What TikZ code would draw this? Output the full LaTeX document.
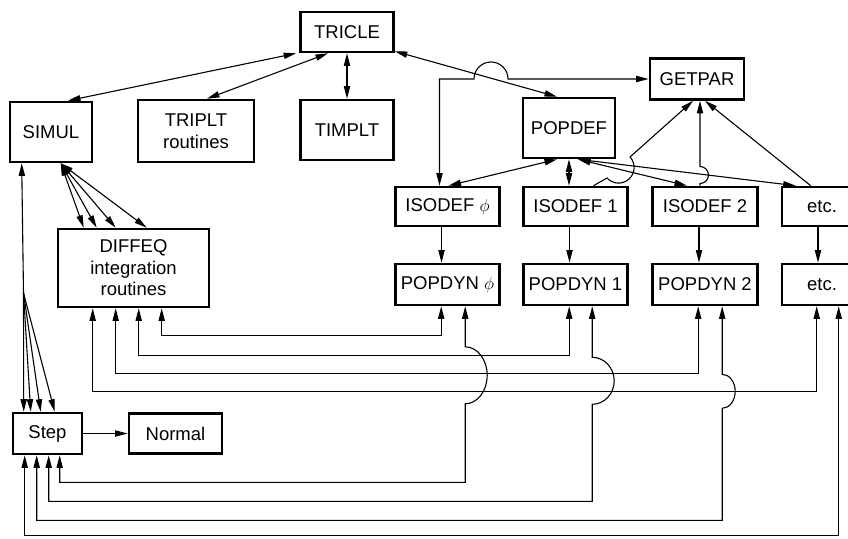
\documentclass[tikz,border=0pt]{standalone}
\usepackage{fontspec}
\setmainfont{Liberation Sans}
\usetikzlibrary{arrows.meta}
\begin{document}
\begin{tikzpicture}[x=1pt,y=-1pt,
  box/.style={draw, line width=2.6pt, inner sep=0pt, align=center, font=\fontsize{18.5}{21.5}\selectfont},
  conn/.style={line width=1.1pt},
  >={Triangle[length=12.5pt,width=6.2pt]}]
\clip (0,0) rectangle (848,538);
% nodes
\node[box, minimum width=93pt, minimum height=40pt] (tricle) at (347,32) {TRICLE};
\node[box, minimum width=82pt, minimum height=60pt] (simul) at (51,132) {SIMUL};
\node[box, minimum width=116pt, minimum height=62pt] (triplt) at (196,131) {TRIPLT\\routines};
\node[box, minimum width=93pt, minimum height=60pt] (timplt) at (347,130) {TIMPLT};
\node[box, minimum width=94pt, minimum height=41pt] (getpar) at (697,79) {GETPAR};
\node[box, minimum width=92pt, minimum height=60pt] (popdef) at (569,128) {POPDEF};
\node[box, minimum width=104pt, minimum height=39pt] (iso0) at (447.5,206.5) {ISODEF $\phi$};
\node[box, minimum width=104pt, minimum height=39pt] (iso1) at (575.5,206.5) {ISODEF 1};
\node[box, minimum width=105pt, minimum height=39pt] (iso2) at (705,206.5) {ISODEF 2};
\node[box, minimum width=80pt, minimum height=39pt] (etc1) at (822,206.5) {etc.};
\node[box, minimum width=104pt, minimum height=41pt] (dyn0) at (447.5,284.5) {POPDYN $\phi$};
\node[box, minimum width=104pt, minimum height=41pt] (dyn1) at (575.5,284.5) {POPDYN 1};
\node[box, minimum width=105pt, minimum height=41pt] (dyn2) at (705,284.5) {POPDYN 2};
\node[box, minimum width=80pt, minimum height=41pt] (etc2) at (822,284.5) {etc.};
\node[box, minimum width=151pt, minimum height=78pt] (diffeq) at (133.5,268) {DIFFEQ\\integration\\routines};
\node[box, minimum width=69pt, minimum height=41pt] (step) at (47.5,433.5) {Step};
\node[box, minimum width=93pt, minimum height=40pt] (normal) at (175.5,433.5) {Normal};
\coordinate (fan) at (23.5,293);

% top connectors
\draw[conn,<->] ([xshift=-3pt]tricle.south west) -- ([xshift=17pt]simul.north);
\draw[conn,<->] ([xshift=-19pt]tricle.south) -- ([xshift=11pt]triplt.north);
\draw[conn,<->] (tricle.south) -- (timplt.north);
\draw[conn,<->] ([yshift=2pt]tricle.south east) -- ([xshift=-12pt]popdef.north);
\draw[conn,<->] ([xshift=-8pt]iso0.north) |- (474,79) arc[start angle=180,end angle=360,radius=17] -- (getpar.west);

% popdef to isodefs
\draw[conn,<->] ([xshift=-12pt]popdef.south) -- ([xshift=1pt]iso0.north);
\draw[conn,<->] (popdef.south) -- (popdef.south |- iso1.north);
\draw[conn,<->] ([xshift=9pt]popdef.south) -- ([xshift=-18pt]iso2.north);
\draw[conn,<->] ([xshift=9pt]popdef.south) -- ([xshift=15pt]etc1.north west);

% isodefs to getpar
\draw[conn,->] ([xshift=18pt]iso1.north) -- (607,178) arc[start angle=137.6,end angle=-42.4,radius=15.6] -- ([xshift=-4pt]getpar.south);
\draw[conn,->] ([xshift=-5pt]iso2.north) -- (700,183.5) arc[start angle=90,end angle=-90,radius=8.5] -- ([xshift=3pt]getpar.south);
\draw[conn,->] ([xshift=30pt]etc1.north west) -- ([xshift=8pt]getpar.south);

% isodef to popdyn
\draw[conn,->] ([xshift=-6pt]iso0.south) -- ([xshift=-6pt]dyn0.north);
\draw[conn,->] ([xshift=-6pt]iso1.south) -- ([xshift=-6pt]dyn1.north);
\draw[conn,->] ([xshift=-6pt]iso2.south) -- ([xshift=-6pt]dyn2.north);
\draw[conn,->] ([xshift=-4pt]etc1.south) -- ([xshift=-4pt]etc2.north);

% SIMUL fans
\foreach \dx in {27,40,59,90}
  \draw[conn,<->] ([xshift=52pt]simul.south west) -- ([xshift=\dx pt]diffeq.north west);
\draw[conn,->] (fan) -- ([xshift=13pt]simul.south west);
\foreach \dx in {12,19,29,43}
  \draw[conn,->] (fan) -- ([xshift=\dx pt]step.north west);

% Step to Normal
\draw[conn,->] (step.east) -- (normal.west);

% DIFFEQ to POPDYN
\draw[conn,<->] ([xshift=105pt]diffeq.south west) -- ++(0,27) -| ([xshift=47pt]dyn0.south west);
\draw[conn,<->] ([xshift=82pt]diffeq.south west) -- ++(0,47) -| ([xshift=47pt]dyn1.south west);
\draw[conn,<->] ([xshift=59pt]diffeq.south west) -- ++(0,65) -| ([xshift=47pt]dyn2.south west);
\draw[conn,<->] ([xshift=36pt]diffeq.south west) -- ++(0,83) -| ([xshift=36pt]etc2.south west);

% POPDYN to Step
\draw[conn,<->] ([xshift=71pt]dyn0.south west) -- ++(0,40.5) arc[start angle=-90,end angle=90,x radius=22,y radius=28.5] -- ++(0,78.5) -| ([xshift=48pt]step.south west);
\draw[conn,<->] ([xshift=70pt]dyn1.south west) -- ++(0,51) arc[start angle=-90,end angle=90,x radius=22,y radius=23.5] -- ++(0,97) -| ([xshift=37pt]step.south west);
\draw[conn,<->] ([xshift=71pt]dyn2.south west) -- ++(0,68) arc[start angle=-90,end angle=90,x radius=13,y radius=17] -- ++(0,112) -| ([xshift=25pt]step.south west);
\draw[conn,<->] ([xshift=58pt]etc2.south west) -- ++(0,229) -| ([xshift=13pt]step.south west);
\end{tikzpicture}
\end{document}
